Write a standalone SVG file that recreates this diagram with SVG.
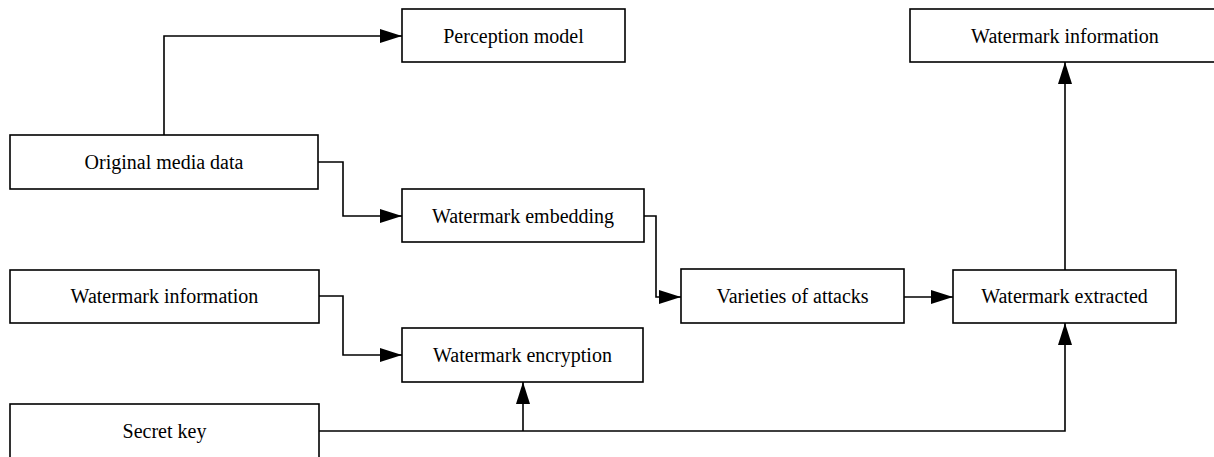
<svg xmlns="http://www.w3.org/2000/svg" width="1214" height="457" viewBox="0 0 1214 457">
<style>
.box{fill:#fff;stroke:#000;stroke-width:1.6}
.lbl{font-family:"Liberation Serif","Times New Roman",serif;font-size:20px;fill:#000;text-anchor:middle}
.ln{fill:none;stroke:#000;stroke-width:1.6}
</style>
<defs>
<marker id="ah" viewBox="0 0 22 14" refX="22" refY="7" markerWidth="22" markerHeight="14" markerUnits="userSpaceOnUse" orient="auto">
<path d="M0,0 L22,7 L0,14 Z" fill="#000"/>
</marker>
</defs>
<g id="connectors">
<path class="ln" d="M164,135 V36 H402" marker-end="url(#ah)"/>
<path class="ln" d="M318,162 H343 V216 H402" marker-end="url(#ah)"/>
<path class="ln" d="M644,216 H656 V297 H681" marker-end="url(#ah)"/>
<path class="ln" d="M319,296 H343 V355 H402" marker-end="url(#ah)"/>
<path class="ln" d="M904,297 H953" marker-end="url(#ah)"/>
<path class="ln" d="M1065,270 V62" marker-end="url(#ah)"/>
<path class="ln" d="M319,431 H1065 V323" marker-end="url(#ah)"/>
<path class="ln" d="M523,431 V382" marker-end="url(#ah)"/>
</g>
<g id="perception">
<rect class="box" x="402" y="9" width="223" height="53"/>
<text class="lbl" x="513.5" y="42.5">Perception model</text>
</g>
<g id="original">
<rect class="box" x="10" y="135" width="308" height="54"/>
<text class="lbl" x="164" y="168.5">Original media data</text>
</g>
<g id="embedding">
<rect class="box" x="402" y="189" width="242" height="53"/>
<text class="lbl" x="523" y="222.5">Watermark embedding</text>
</g>
<g id="wminfo-left">
<rect class="box" x="10" y="270" width="309" height="53"/>
<text class="lbl" x="164.5" y="303">Watermark information</text>
</g>
<g id="encryption">
<rect class="box" x="402" y="328" width="241" height="54"/>
<text class="lbl" x="522.5" y="361.5">Watermark encryption</text>
</g>
<g id="secret">
<rect class="box" x="10" y="404" width="309" height="60"/>
<text class="lbl" x="164.5" y="438">Secret key</text>
</g>
<g id="attacks">
<rect class="box" x="681" y="269" width="223" height="54"/>
<text class="lbl" x="792.5" y="302.5">Varieties of attacks</text>
</g>
<g id="extracted">
<rect class="box" x="953" y="270" width="223" height="53"/>
<text class="lbl" x="1064.5" y="303">Watermark extracted</text>
</g>
<g id="wminfo-top">
<rect class="box" x="910" y="9" width="310" height="53"/>
<text class="lbl" x="1065" y="42.5">Watermark information</text>
</g>
</svg>
